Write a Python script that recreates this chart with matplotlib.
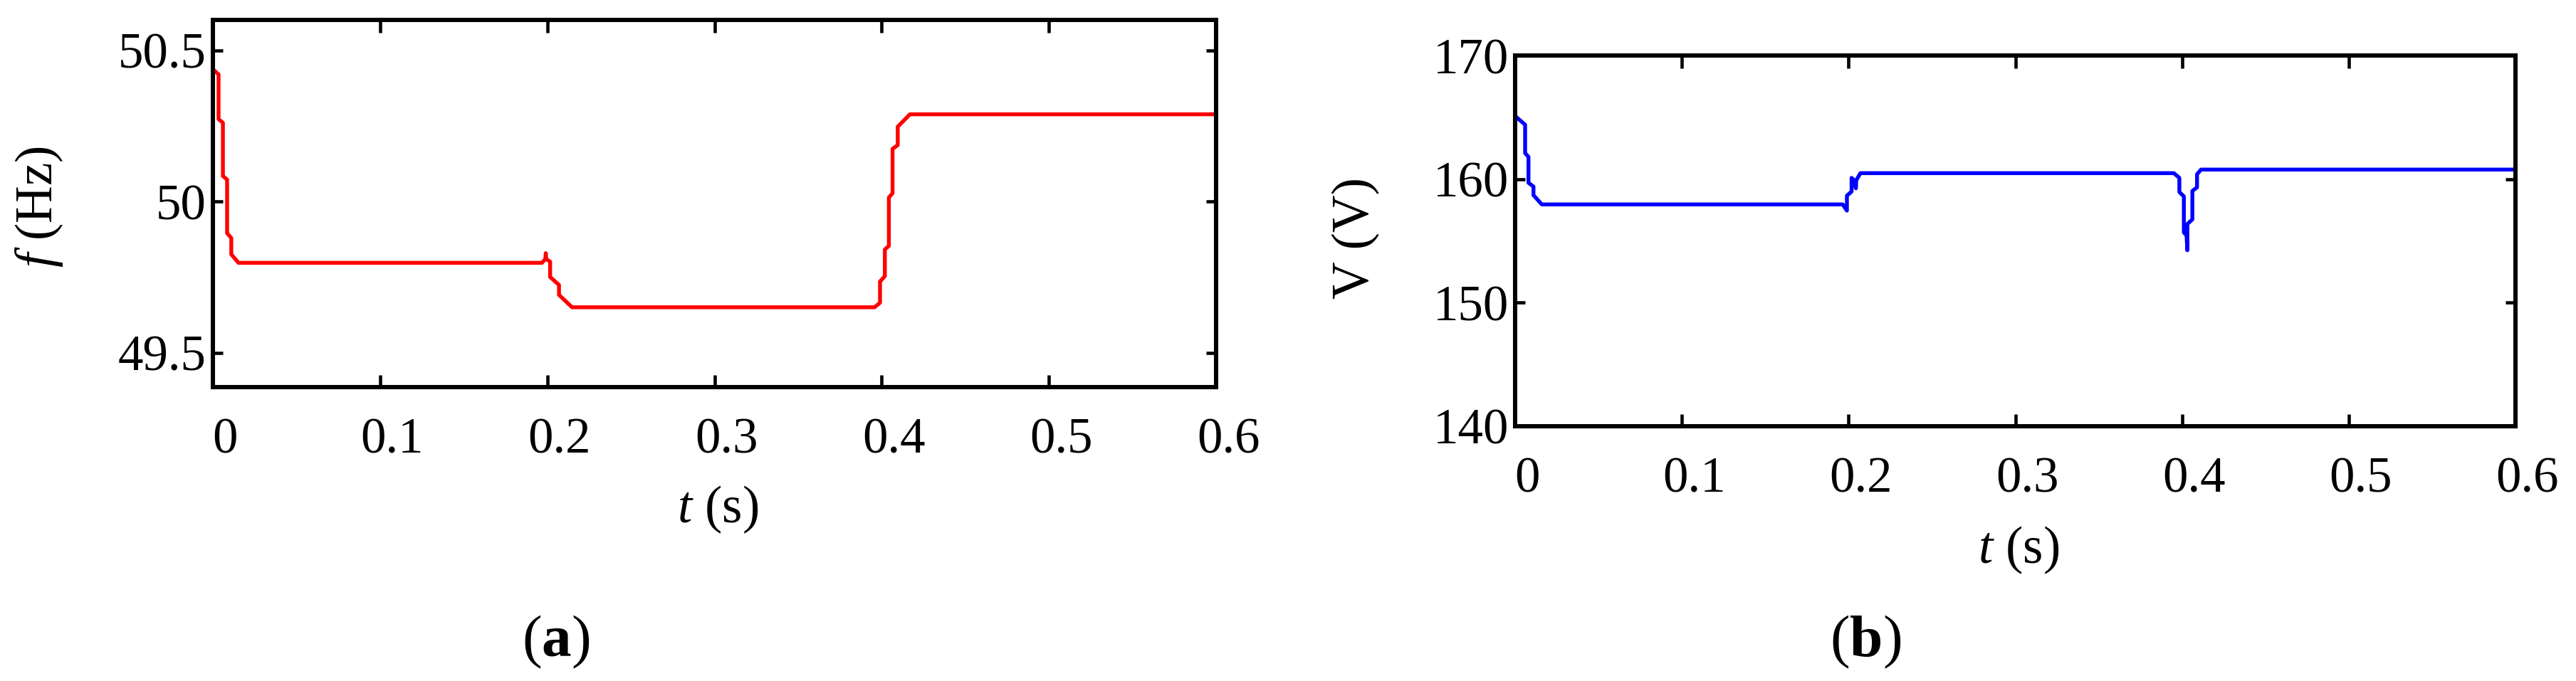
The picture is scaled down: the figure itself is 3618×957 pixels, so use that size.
"""Frequency and voltage response, panels (a) and (b)."""
import matplotlib
matplotlib.use("Agg")
import matplotlib.pyplot as plt
import matplotlib.transforms as mtransforms

# -----------------------------------------------------------------------------
# Data
# -----------------------------------------------------------------------------
f_t = [0.0, 0.0, 0.0034, 0.0034, 0.006, 0.006, 0.0085, 0.0085, 0.011, 0.011,
       0.0153, 0.1968, 0.1988, 0.1991, 0.1994, 0.2017, 0.2017, 0.207, 0.207,
       0.2148, 0.3957, 0.399, 0.399, 0.4019, 0.4019, 0.4043, 0.4043, 0.4065,
       0.4065, 0.4096, 0.4096, 0.4169, 0.6]
f_hz = [50.513, 50.438, 50.421, 50.273, 50.261, 50.085, 50.073, 49.896, 49.880,
        49.826, 49.798, 49.798, 49.810, 49.830, 49.810, 49.802, 49.751, 49.725,
        49.692, 49.651, 49.651, 49.666, 49.736, 49.754, 49.842, 49.854, 50.014,
        50.028, 50.175, 50.187, 50.248, 50.289, 50.289]

v_t = [0.0, 0.0, 0.006, 0.006, 0.008, 0.008, 0.011, 0.011, 0.016, 0.1965,
       0.199, 0.199, 0.2018, 0.2018, 0.2030, 0.2044, 0.2046, 0.2071, 0.3951,
       0.3984, 0.3984, 0.4011, 0.4011, 0.4027, 0.4032, 0.4032, 0.4062, 0.4062,
       0.409, 0.409, 0.4114, 0.6]
v_volt = [166.9, 165.1, 164.4, 162.1, 161.8, 159.7, 159.4, 158.7, 157.95,
          157.95, 157.45, 158.66, 158.99, 160.1, 159.95, 159.25, 159.9, 160.48,
          160.48, 160.1, 158.95, 158.6, 155.68, 155.45, 154.24, 156.36, 156.74,
          159.04, 159.33, 160.39, 160.77, 160.77]

x_ticks = [0, 0.1, 0.2, 0.3, 0.4, 0.5, 0.6]
x_tick_labels = ["0", "0.1", "0.2", "0.3", "0.4", "0.5", "0.6"]
f_ticks = [49.5, 50, 50.5]
f_tick_labels = ["49.5", "50", "50.5"]
v_ticks = [140, 150, 160, 170]
v_tick_labels = ["140", "150", "160", "170"]

# -----------------------------------------------------------------------------
# Style
# -----------------------------------------------------------------------------
plt.rcParams["font.family"] = ["Liberation Serif", "DejaVu Serif"]
plt.rcParams["mathtext.fontset"] = "custom"
plt.rcParams["mathtext.rm"] = "Liberation Serif"
plt.rcParams["mathtext.it"] = "Liberation Serif:italic"
plt.rcParams["mathtext.bf"] = "Liberation Serif:bold"

W, H, DPI = 3618, 957, 300
fig = plt.figure(figsize=(W / DPI, H / DPI), dpi=DPI)


def px_box(x0, y0, x1, y1):
    return [x0 / W, 1 - y1 / H, (x1 - x0) / W, (y1 - y0) / H]


def style_axes(ax, xt, xl, yt, yl, ylim):
    ax.set_xlim(0, 0.6)
    ax.set_ylim(*ylim)
    ax.set_xticks(xt)
    ax.set_xticklabels(xl)
    ax.set_yticks(yt)
    ax.set_yticklabels(yl)
    for s in ax.spines.values():
        s.set_linewidth(1.45)
    ax.tick_params(axis="both", direction="in", top=True, right=True,
                   width=1.1, labelsize=17)
    ax.tick_params(axis="x", length=4.2, pad=10.3)
    ax.tick_params(axis="y", length=3.4, pad=2.2)
    # labels sit a little right of their ticks in the original
    shift = mtransforms.ScaledTranslation(17 / DPI, 0, fig.dpi_scale_trans)
    for lab in ax.get_xticklabels():
        lab.set_transform(lab.get_transform() + shift)


# (a) frequency
ax1 = fig.add_axes(px_box(299, 28, 1708, 544))
ax1.plot(f_t, f_hz, color="#ff0000", lw=1.3)
style_axes(ax1, x_ticks, x_tick_labels, f_ticks, f_tick_labels, (49.387, 50.601))

# (b) voltage
ax2 = fig.add_axes(px_box(2128, 78, 3533, 599))
ax2.plot(v_t, v_volt, color="#0000ff", lw=1.3)
style_axes(ax2, x_ticks, x_tick_labels, v_ticks, v_tick_labels, (140, 170))

# axis labels and panel tags
fig.text(55 / W, 1 - 291 / H, "$f$ (Hz)", rotation=90, ha="center", va="center",
         fontsize=17.5)
fig.text(1008 / W, 1 - 716 / H, "$t$ (s)", ha="center", va="center", fontsize=17.5)
fig.text(781 / W, 1 - 902 / H, r"($\mathbf{a}$)", ha="center", va="center",
         fontsize=20)

fig.text(1904 / W, 1 - 335 / H, "V (V)", rotation=90, ha="center", va="center",
         fontsize=17.5)
fig.text(2835 / W, 1 - 773 / H, "$t$ (s)", ha="center", va="center", fontsize=17.5)
fig.text(2620 / W, 1 - 902 / H, r"($\mathbf{b}$)", ha="center", va="center",
         fontsize=20)

fig.savefig("out.png", dpi=DPI)
